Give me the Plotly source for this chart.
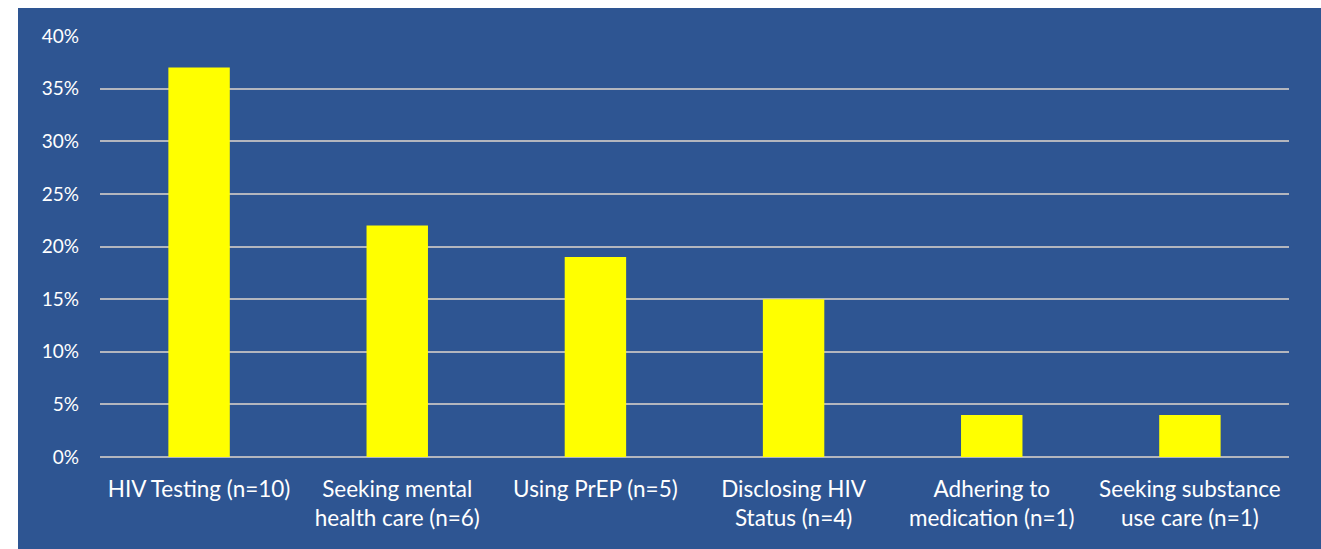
import plotly.graph_objects as go

# Share of participants reporting each outcome
categories = [
    "HIV Testing (n=10)",
    "Seeking mental<br>health care (n=6)",
    "Using PrEP (n=5)",
    "Disclosing HIV<br>Status (n=4)",
    "Adhering to<br>medication (n=1)",
    "Seeking substance<br>use care (n=1)",
]
values = [0.37, 0.22, 0.19, 0.15, 0.04, 0.04]
y_ticks = [0, 0.05, 0.10, 0.15, 0.20, 0.25, 0.30, 0.35, 0.40]

BLUE = "#2E5592"
GRID = "#B3B6BE"
FONT = "Lato"

W, H = 1321, 549
ML, MR, MT, MB = 100, 32, 36, 92
plot_w = W - ML - MR
plot_h = H - MT - MB

fig = go.Figure(
    go.Bar(
        x=categories,
        y=values,
        marker=dict(color="#FFFF00", line=dict(width=0)),
        hoverinfo="x+y",
    )
)

# blue panel behind the whole chart, leaving a white strip on the top and left
bx0, by0 = 18, 8
fig.add_shape(
    type="rect",
    xref="paper", yref="paper",
    x0=(bx0 - ML) / plot_w, x1=(W - ML) / plot_w,
    y0=(MT + plot_h - H) / plot_h, y1=(MT + plot_h - by0) / plot_h,
    fillcolor=BLUE, line=dict(width=0), layer="below",
)

fig.update_layout(
    width=W, height=H,
    margin=dict(l=ML, r=MR, t=MT, b=MB, pad=0),
    paper_bgcolor="white",
    plot_bgcolor=BLUE,
    bargap=0.69,
    showlegend=False,
    font=dict(family=FONT, color="white", size=22),
)
fig.update_xaxes(
    showgrid=False, showline=False, ticks="",
    tickfont=dict(family=FONT, color="white", size=22.5),
    ticklabelstandoff=16,
)
fig.update_yaxes(
    range=[0, 0.4], tickvals=y_ticks, tickformat=".0%",
    showgrid=True, gridcolor=GRID, gridwidth=1.5,
    zeroline=True, zerolinecolor=GRID, zerolinewidth=1.5,
    showline=False, ticks="",
    tickfont=dict(family=FONT, color="white", size=19),
    ticklabelstandoff=20,
)

fig.write_html("out.html")
